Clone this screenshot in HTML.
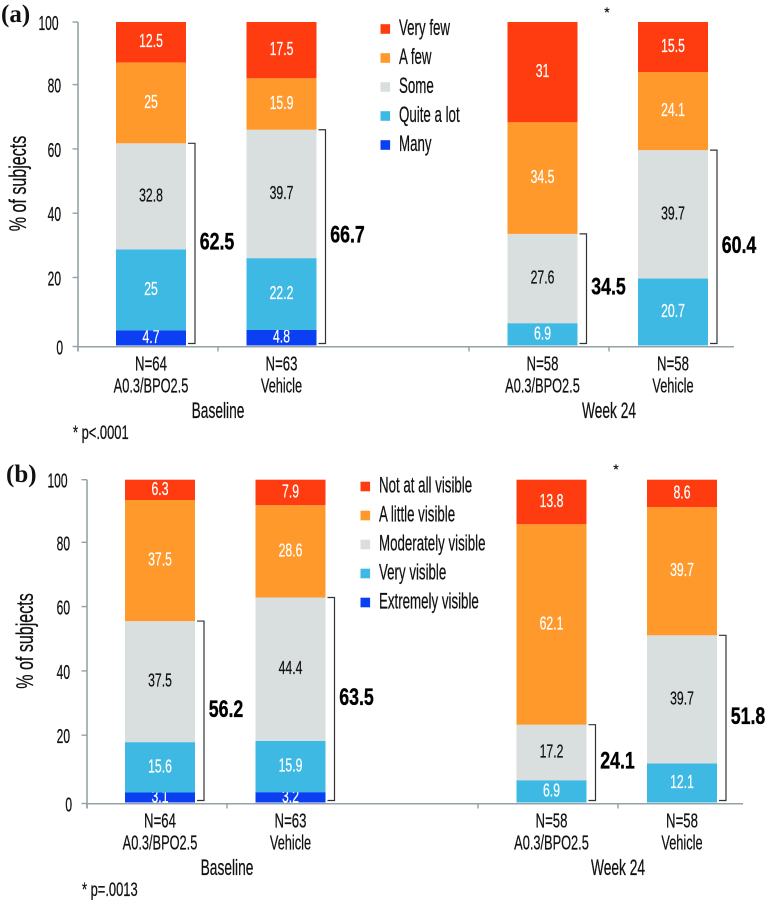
<!DOCTYPE html>
<html lang="en">
<head>
<meta charset="utf-8">
<title>Stacked bar charts of subject ratings at baseline and week 24</title>
<style>
html,body{margin:0;padding:0;background:#fff;width:767px;height:900px;overflow:hidden}
svg{display:block}
text{font-family:"Liberation Sans",sans-serif}
</style>
</head>
<body>
<svg id="chart" xmlns="http://www.w3.org/2000/svg" width="767" height="900" viewBox="0 0 767 900"></svg>
<script>
// Shared data
const yTickLabels = [0, 20, 40, 60, 80, 100];
const categoryCounts = ['N', 'N', '', 'N', 'N'];
const armLabels = ['A0.3/BPO2.5', 'Vehicle', '', 'A0.3/BPO2.5', 'Vehicle'];
const seriesColors = ['#0b3ff2', '#3db9e4', '#d9dfde', '#ff992b', '#ff3c10'];
const groupLabels = ['Baseline', 'Week 24'];

// Panel (a)
const nA = [64, 63, null, 58, 58];
const legendA = ['Many', 'Quite a lot', 'Some', 'A few', 'Very few'];
const manyA = [4.7, 4.8, null, 0, 0];
const quiteALotA = [25, 22.2, null, 6.9, 20.7];
const someA = [32.8, 39.7, null, 27.6, 39.7];
const aFewA = [25, 15.9, null, 34.5, 24.1];
const veryFewA = [12.5, 17.5, null, 31, 15.5];
const totalsA = [62.5, 66.7, null, 34.5, 60.4];

// Panel (b)
const nB = [64, 63, null, 58, 58];
const legendB = ['Extremely visible', 'Very visible', 'Moderately visible', 'A little visible', 'Not at all visible'];
const extremelyB = [3.1, 3.2, null, 0, 0];
const veryB = [15.6, 15.9, null, 6.9, 12.1];
const moderatelyB = [37.5, 44.4, null, 17.2, 39.7];
const littleB = [37.5, 28.6, null, 62.1, 39.7];
const notAtAllB = [6.3, 7.9, null, 13.8, 8.6];
const totalsB = [56.2, 63.5, null, 24.1, 51.8];

const NS = 'http://www.w3.org/2000/svg';
const root = document.getElementById('chart');

function el(tag, attrs, parent) {
  const e = document.createElementNS(NS, tag);
  for (const k in attrs) e.setAttribute(k, attrs[k]);
  (parent || root).appendChild(e);
  return e;
}
function label(str, x, y, size, sx, anchor, fill, weight, parent) {
  const t = el('text', {
    transform: 'translate(' + x + ',' + y + ') scale(' + sx + ',1)',
    'font-size': size,
    'text-anchor': anchor,
    fill: fill,
    stroke: fill,
    'stroke-width': weight === 'bold' ? 0.35 : 0.25,
    'font-weight': weight
  }, parent);
  t.textContent = str;
  return t;
}

function drawPanel(p) {
  const g = el('g', {});
  
  

  const barBase = p.y0 - 1;
  const yScale = v => barBase - v * (barBase - p.y100) / 100;
  // The printed axis has a slightly compressed tick spacing above 20, with 0 set apart.
  const yTick = v => v === 0 ? p.y0 : (v === 100 ? p.y100 : p.y100 + 255.5 - (v - 20) * 3.215);
  const xScale = i => p.x0 + 73 + i * 130.5;
  const barW = 70;
  const axisColor = '#93a3a5';

  // panel letter
  const letter = el('text', {
    x: p.letterX, y: p.letterY, 'font-size': 25, 'font-weight': 'bold', fill: '#111',
    style: 'font-family:"Liberation Serif",serif'
  }, g);
  letter.textContent = '(' + p.id + ')';
  
  

  // axes
  const axY = el('line', { x1: p.x0, x2: p.x0, y1: p.y100, y2: p.y0 + 5, stroke: axisColor, 'stroke-width': 1.6 }, g);
  
  
  const axX = el('line', { x1: p.x0, x2: p.x0 + 656, y1: p.y0 + 0.3, y2: p.y0 + 0.3, stroke: axisColor, 'stroke-width': 1.5 }, g);
  
  

  // bars
  p.series.forEach((vals, s) => {
    vals.forEach((v, i) => {
      if (v === null || v === 0) return;
      let base = 0;
      for (let k = 0; k < s; k++) base += p.series[k][i];
      const top = Math.min(100, base + v);
      const r = el('rect', {
        x: xScale(i) - barW / 2, y: yScale(top), width: barW,
        height: yScale(base) - yScale(top), fill: seriesColors[s]
      }, g);
      
      
      const t = label(String(v), xScale(i), (yScale(base) + yScale(top)) / 2 + 5, 18.5, 0.66, 'middle', s === 2 ? '#111' : '#fff', 'normal', g);
      
      
    });
  });

  yTickLabels.forEach(v => {
    const tick = el('line', { x1: p.x0 - 5.5, x2: p.x0, y1: yTick(v), y2: yTick(v), stroke: axisColor, 'stroke-width': 1.4 }, g);
    
    
    const inset = v === 100 ? 19.5 : (v === 0 ? 15 : 17);
    const t = label(String(v), p.x0 - inset, yTick(v) + 8, 20, 0.6, 'end', '#111', 'normal', g);
    
    
  });

  [0, 140, 391, 531].forEach(dx => {
    const tick = el('line', { x1: p.x0 + dx, x2: p.x0 + dx, y1: p.y0, y2: p.y0 + 5, stroke: axisColor, 'stroke-width': 1.4 }, g);
    
    
  });

  // y title
  const yt = label('% of subjects', 0, 0, 24, 0.67, 'middle', '#111', 'normal', g);
  yt.setAttribute('transform', 'translate(' + p.yTitleX + ',' + p.yTitleY + ') rotate(-90) scale(0.67,1)');
  
  

  // category labels
  p.n.forEach((n, i) => {
    if (n === null) return;
    const a = label(categoryCounts[i] + '=' + n, xScale(i), p.y0 + 24, 20, 0.66, 'middle', '#111', 'normal', g);
    
    
    const b = label(armLabels[i], xScale(i), p.y0 + 46, 20, 0.64, 'middle', '#111', 'normal', g);
    
    
  });
  groupLabels.forEach((name, i) => {
    const t = label(name, p.x0 + (i === 0 ? 140 : 531), p.y0 + 71.5, 22, 0.625, 'middle', '#111', 'normal', g);
    
    
  });

  // brackets and totals
  p.totals.forEach((v, i) => {
    if (v === null) return;
    const r = xScale(i) + barW / 2;
    const top = yScale(v);
    const bottom = p.y0 - 3;
    const br = el('path', {
      d: 'M' + (r + 2) + ' ' + top + 'H' + (r + 9) + 'V' + bottom + 'H' + (r + 2),
      fill: 'none', stroke: '#333', 'stroke-width': 1.2
    }, g);
    
    
    const t = label(String(v), r + 31, (top + bottom) / 2 + 6, 24, 0.74, 'middle', '#000', 'bold', g);
    
    
  });

  // legend
  const lg = el('g', {}, g);
  
  
  p.legend.forEach((name, s) => {
    const row = 4 - s;
    const cy = p.legY + row * 29;
    const sw = el('rect', { x: p.legX, y: cy - 4.8, width: 9.6, height: 9.6, fill: seriesColors[s] }, lg);
    
    
    const t = label(name, p.legX + 18.5, cy + 6, 22, 0.605, 'start', '#111', 'normal', lg);
    
    
  });

  // significance star and footnote
  const star = label('*', p.starX, p.starY, 14, 1, 'middle', '#111', 'normal', g);
  
  
  const note = label(p.note, p.noteX, p.noteY, 19, 0.68, 'start', '#111', 'normal', g);
  
  
}

drawPanel({
  id: 'a', x0: 78, y0: 346.5, y100: 22,
  n: nA, legend: legendA, totals: totalsA,
  series: [manyA, quiteALotA, someA, aFewA, veryFewA],
  letterX: 1, letterY: 22,
  yTitleX: 26, yTitleY: 183.5,
  legX: 380.5, legY: 29,
  starX: 607, starY: 17,
  note: '* p<.0001', noteX: 73, noteY: 439
});
drawPanel({
  id: 'b', x0: 87, y0: 803.5, y100: 479.7,
  n: nB, legend: legendB, totals: totalsB,
  series: [extremelyB, veryB, moderatelyB, littleB, notAtAllB],
  letterX: 6, letterY: 482,
  yTitleX: 33, yTitleY: 641,
  legX: 360.5, legY: 486.5,
  starX: 616, starY: 474,
  note: '* p=.0013', noteX: 82, noteY: 896
});
</script>
</body>
</html>
